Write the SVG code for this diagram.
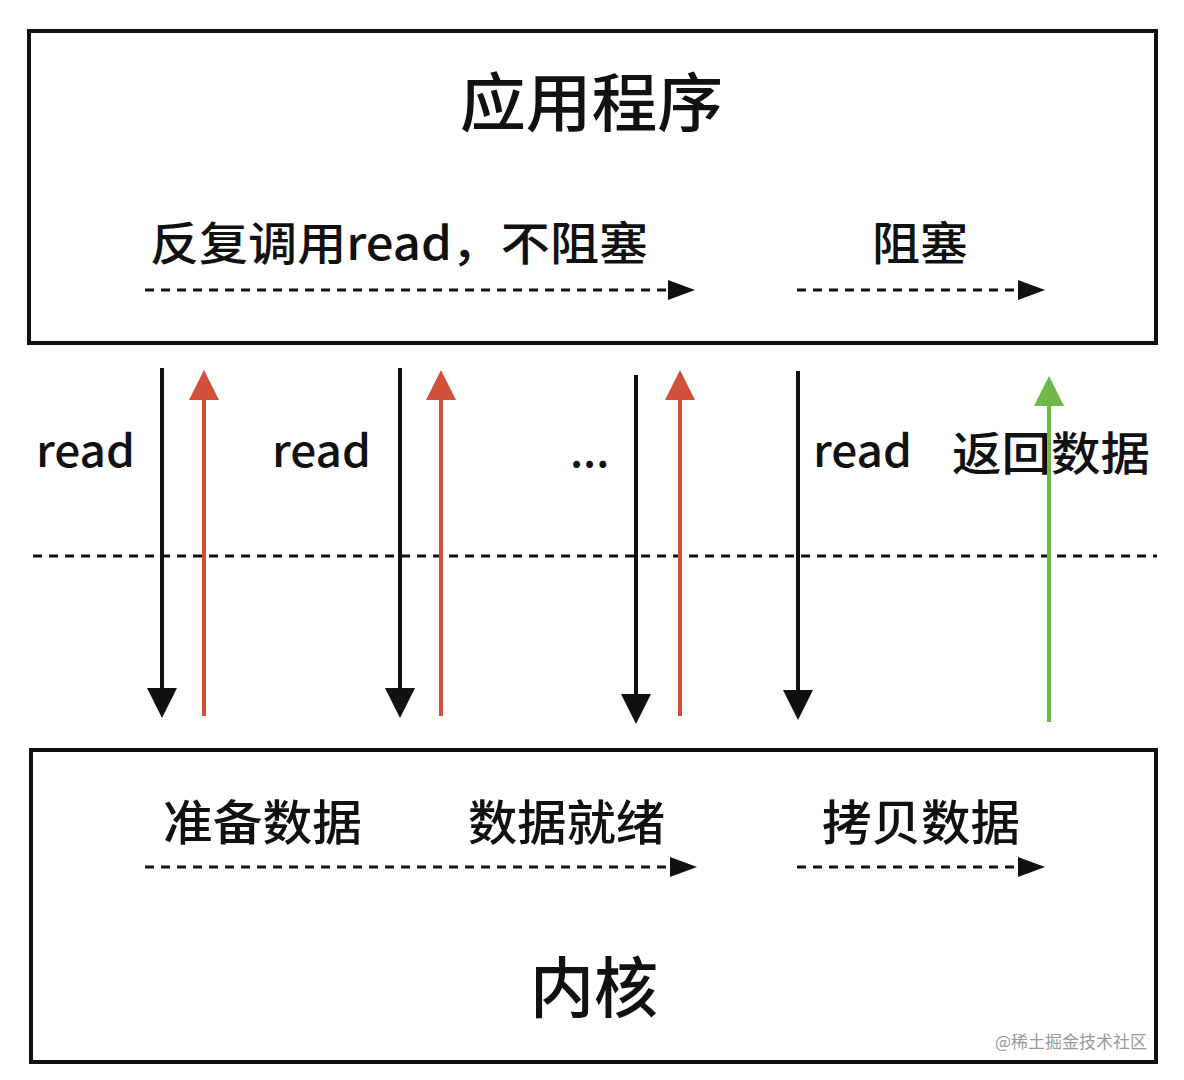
<svg xmlns="http://www.w3.org/2000/svg" width="1184" height="1080" viewBox="0 0 1184 1080">
<style>
text{font-family:"Noto Sans CJK SC","Noto Sans",sans-serif;fill:#111;font-weight:500}
.box{fill:none;stroke:#111;stroke-width:4}
.dash{stroke:#111;stroke-width:3;stroke-dasharray:9 7;fill:none}
</style>
<rect width="1184" height="1080" fill="#fff"/>
<g id="app">
<rect class="box" x="29" y="31" width="1127" height="312"/>
<text x="460" y="126" font-size="64" textLength="263" lengthAdjust="spacingAndGlyphs">应用程序</text>
<text x="150" y="260" font-size="46" textLength="498" lengthAdjust="spacingAndGlyphs">反复调用read，不阻塞</text>
<text x="872" y="260" font-size="46" textLength="96" lengthAdjust="spacingAndGlyphs">阻塞</text>
</g>
<g id="kernel">
<rect class="box" x="31" y="750" width="1125" height="312"/>
<text x="163" y="840" font-size="48" textLength="199" lengthAdjust="spacingAndGlyphs">准备数据</text>
<text x="468" y="840" font-size="48" textLength="197" lengthAdjust="spacingAndGlyphs">数据就绪</text>
<text x="822" y="840" font-size="48" textLength="198" lengthAdjust="spacingAndGlyphs">拷贝数据</text>
<text x="530" y="1012" font-size="66" textLength="128" lengthAdjust="spacingAndGlyphs">内核</text>
</g>
<g id="labels" font-size="44">
<text x="36" y="467" textLength="99" lengthAdjust="spacingAndGlyphs">read</text>
<text x="272" y="467" textLength="99" lengthAdjust="spacingAndGlyphs">read</text>
<text x="570" y="467">...</text>
<text x="813" y="467" textLength="99" lengthAdjust="spacingAndGlyphs">read</text>
<text x="952" y="470" font-size="46" textLength="198" lengthAdjust="spacingAndGlyphs">返回数据</text>
</g>
<g id="connectors">
<line class="dash" x1="33" y1="556" x2="1157" y2="556"/>
<line class="dash" x1="145" y1="290" x2="668" y2="290"/><path d="M668,280L695,290L668,300z" fill="#111"/>
<line class="dash" x1="797" y1="290" x2="1020" y2="290"/><path d="M1018,280L1045,290L1018,300z" fill="#111"/>
<line class="dash" x1="145" y1="867" x2="670" y2="867"/><path d="M670,857L697,867L670,877z" fill="#111"/>
<line class="dash" x1="797" y1="867" x2="1020" y2="867"/><path d="M1018,857L1045,867L1018,877z" fill="#111"/>
<g stroke="#111" stroke-width="4">
<line x1="162" y1="368" x2="162" y2="690"/><line x1="400" y1="368" x2="400" y2="690"/><line x1="636" y1="375" x2="636" y2="696"/><line x1="798" y1="371" x2="798" y2="692"/>
</g>
<g fill="#111">
<path d="M147,688L177,688L162,718z"/><path d="M385,688L415,688L400,718z"/><path d="M621,694L651,694L636,724z"/><path d="M783,690L813,690L798,720z"/>
</g>
<g stroke="#d0503a" stroke-width="4">
<line x1="204" y1="716" x2="204" y2="396"/><line x1="441" y1="716" x2="441" y2="396"/><line x1="680" y1="716" x2="680" y2="396"/>
</g>
<g fill="#d0503a">
<path d="M189,400L219,400L204,370z"/><path d="M426,400L456,400L441,370z"/><path d="M665,400L695,400L680,370z"/>
</g>
<line x1="1049" y1="722" x2="1049" y2="402" stroke="#6db849" stroke-width="4"/>
<path d="M1034,406L1064,406L1049,376z" fill="#6db849"/>
</g>
<text x="995" y="1048" font-size="17" style="fill:#999;font-weight:400">@稀土掘金技术社区</text>
</svg>
